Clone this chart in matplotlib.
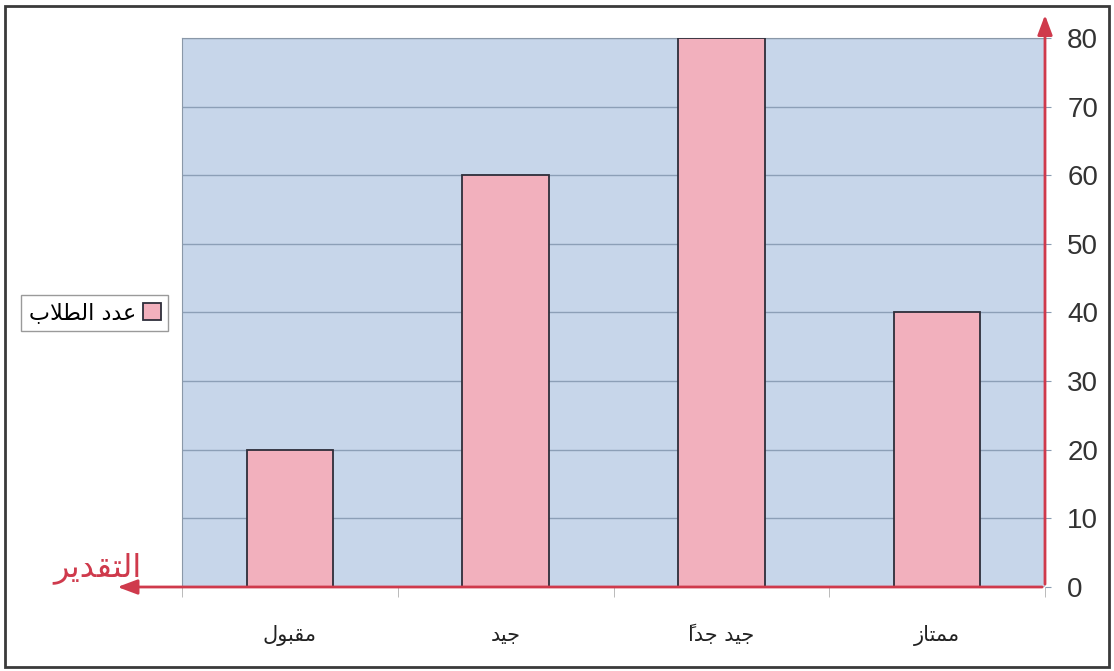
import matplotlib
matplotlib.use('Agg')
import matplotlib.pyplot as plt
from matplotlib.patches import Rectangle

categories = ['مقبول', 'جيد', 'جيد جداً', 'ممتاز']
students = [20, 60, 80, 40]
y_ticks = [0, 10, 20, 30, 40, 50, 60, 70, 80]
series_label = 'عدد الطلاب'
axis_label = 'التقدير'

# matplotlib has no arabic shaping, so pick presentation forms by hand
FORMS = {
    'ا': (0xFE8D, 0xFE8E, None, None),
    'ب': (0xFE8F, 0xFE90, 0xFE91, 0xFE92),
    'ت': (0xFE95, 0xFE96, 0xFE97, 0xFE98),
    'ج': (0xFE9D, 0xFE9E, 0xFE9F, 0xFEA0),
    'د': (0xFEA9, 0xFEAA, None, None),
    'ر': (0xFEAD, 0xFEAE, None, None),
    'ز': (0xFEAF, 0xFEB0, None, None),
    'ط': (0xFEC1, 0xFEC2, 0xFEC3, 0xFEC4),
    'ع': (0xFEC9, 0xFECA, 0xFECB, 0xFECC),
    'ق': (0xFED5, 0xFED6, 0xFED7, 0xFED8),
    'ل': (0xFEDD, 0xFEDE, 0xFEDF, 0xFEE0),
    'م': (0xFEE1, 0xFEE2, 0xFEE3, 0xFEE4),
    'و': (0xFEED, 0xFEEE, None, None),
    'ي': (0xFEF1, 0xFEF2, 0xFEF3, 0xFEF4),
}
MARKS = {'\u064B'}


def shape(text):
    n = len(text)
    clusters = []
    prev = False
    i = 0
    while i < n:
        c = text[i]
        if c in MARKS:
            # mark goes left of its base once the word is reversed
            clusters[-1] = c + clusters[-1]
            i += 1
            continue
        if c not in FORMS:
            clusters.append(c)
            prev = False
            i += 1
            continue
        j = i + 1
        while j < n and text[j] in MARKS:
            j += 1
        nxt = text[j] if j < n else ''
        if c == 'ل' and nxt == 'ا':
            clusters.append(chr(0xFEFC if prev else 0xFEFB))
            prev = False
            i = j + 1
            continue
        iso, fin, ini, med = FORMS[c]
        joins_next = ini is not None and nxt in FORMS
        if prev and joins_next:
            g = med
        elif prev:
            g = fin
        elif joins_next:
            g = ini
        else:
            g = iso
        clusters.append(chr(g))
        prev = joins_next
        i += 1
    return ''.join(reversed(clusters))


W, H = 1114, 671
fig = plt.figure(figsize=(W / 100, H / 100), dpi=100)
fig.patch.set_facecolor('white')
fig.add_artist(Rectangle((5 / W, 4 / H), 1104 / W, 661 / H, transform=fig.transFigure,
                         fill=False, edgecolor='#3a3a3a', lw=2))

ax = fig.add_axes([182 / W, (H - 587) / H, 863 / W, 549 / H])
ax.set_facecolor('#c7d6ea')
x = list(range(len(categories)))
bars = ax.bar(x, students, width=0.4, color='#f2b0bd', edgecolor='#2e2e3a', lw=1.3,
              label=shape(series_label), zorder=3)

ax.set_xlim(-0.5, len(categories) - 0.5)
ax.set_ylim(0, 80)
ax.yaxis.tick_right()
ax.set_yticks(y_ticks)
ax.set_yticklabels([str(v) for v in y_ticks], fontsize=20, family='Liberation Sans', color='#333333')
ax.tick_params(axis='y', length=4, color='#8a9cb2', pad=12)
ax.grid(axis='y', color='#8c9fb7', lw=1, zorder=1)

ax.set_xticks(x)
ax.set_xticklabels([shape(c) for c in categories], fontsize=15, family='DejaVu Sans', color='#222222')
ax.tick_params(axis='x', length=0, pad=27)
ax.set_xticks([v - 0.5 for v in range(len(categories) + 1)], minor=True)
ax.tick_params(axis='x', which='minor', length=7, color='#b0b0b0')

for s in ['left', 'top']:
    ax.spines[s].set_color('#8a98a8')
for s in ['right', 'bottom']:
    ax.spines[s].set_visible(False)

red = '#cf3a4c'
ax.annotate('', xy=(1.0, 1.047), xytext=(1.0, 0.0), xycoords='axes fraction',
            arrowprops=dict(arrowstyle='-|>,head_length=1.2,head_width=0.45', color=red, lw=2),
            annotation_clip=False, zorder=5)
ax.annotate('', xy=(-0.078, 0.0), xytext=(1.0, 0.0), xycoords='axes fraction',
            arrowprops=dict(arrowstyle='-|>,head_length=1.2,head_width=0.45', color=red, lw=2),
            annotation_clip=False, zorder=5)

fig.text(98 / W, 1 - 576 / H, shape(axis_label), fontsize=23, color=red,
         family='DejaVu Sans', ha='center', va='baseline')

fig.legend(handles=[bars], loc='center left', bbox_to_anchor=(10 / W, 1 - 313 / H),
           markerfirst=False, fancybox=False, edgecolor='#9a9a9a', framealpha=1,
           prop={'family': 'DejaVu Sans', 'size': 16}, handlelength=0.8, handleheight=0.8,
           handletextpad=0.3, borderpad=0.35)

fig.savefig('out.png', dpi=100)
